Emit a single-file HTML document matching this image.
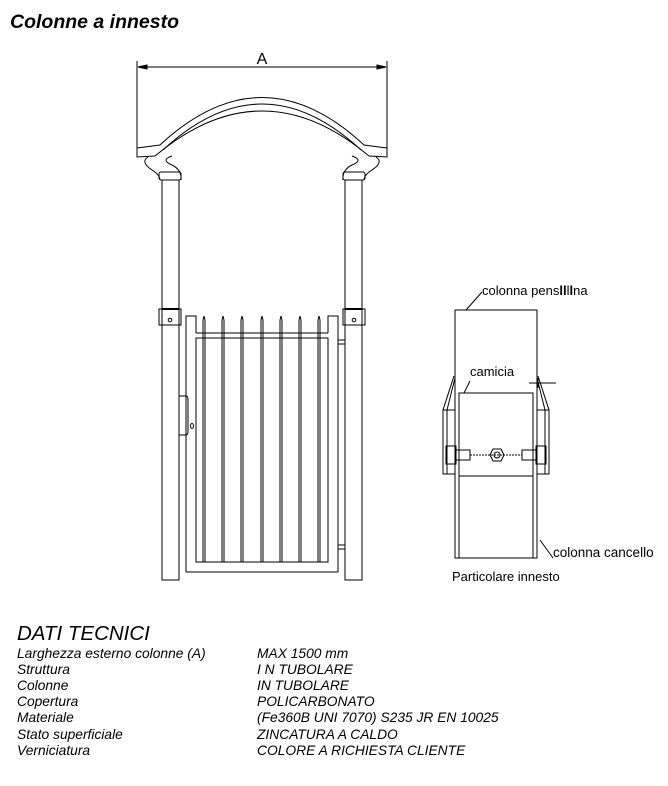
<!DOCTYPE html>
<html><head><meta charset="utf-8"><style>
body{margin:0;background:#fff;}
svg{display:block;}
text{font-family:"Liberation Sans",Arial,sans-serif;fill:#000;}
</style></head><body>
<svg width="668" height="786" viewBox="0 0 668 786" xmlns="http://www.w3.org/2000/svg">
<text x="10" y="28" font-size="19.5" font-weight="bold" font-style="italic">Colonne a innesto</text>
<g fill="none" stroke="#000" stroke-width="1">
<line x1="137" y1="61" x2="137" y2="155"/>
<line x1="387" y1="61" x2="387" y2="155"/>
<line x1="138" y1="67" x2="386" y2="67"/>
<path d="M138 67 l9 -2 v4 z M386 67 l-9 -2 v4 z" fill="#000"/>
<path d="M137 148 L160 145 Q262 50 364 145 L387 148 L387 157 L369 156 Q262 66 155 156 L137 157 Z"/>
<path d="M163 150 Q262 58 361 150"/>
<path d="M148 157 Q140 162 152 170 Q160 175 160 180 M172 156 Q160 160 172 165 Q182 170 181 180"/>
<path d="M376 157 Q384 162 372 170 Q364 175 364 180 M352 156 Q364 160 352 165 Q342 170 343 180"/>
<rect x="159" y="172" width="22" height="8" rx="2"/>
<rect x="162" y="180" width="17" height="400"/>
<rect x="159" y="309" width="22" height="16"/>
<line x1="162" y1="309" x2="179" y2="309" stroke-width="2"/>
<circle cx="170" cy="320" r="1.8"/>
<rect x="343" y="172" width="22" height="8" rx="2"/>
<rect x="345" y="180" width="17" height="400"/>
<rect x="343" y="309" width="22" height="16"/>
<line x1="345" y1="309" x2="362" y2="309" stroke-width="2"/>
<circle cx="354" cy="320" r="1.8"/>
<path d="M186 572 V316 H196 V333 M338 572 V316 H328 V333"/>
<line x1="186" y1="572" x2="338" y2="572"/>
<line x1="196" y1="333" x2="328" y2="333"/>
<rect x="196" y="338" width="132" height="224"/>
<g>
<path d="M203 562 V320 l1 -4 l1 4 V562"/>
<path d="M222 562 V320 l1 -4 l1 4 V562"/>
<path d="M241 562 V320 l1 -4 l1 4 V562"/>
<path d="M261 562 V320 l1 -4 l1 4 V562"/>
<path d="M280 562 V320 l1 -4 l1 4 V562"/>
<path d="M299 562 V320 l1 -4 l1 4 V562"/>
<path d="M318 562 V320 l1 -4 l1 4 V562"/>
</g>
<path d="M179 396 H186 Q188 396 188 400 V431 Q188 435 186 435 H179"/>
<ellipse cx="192" cy="426" rx="1.5" ry="2.5"/>
<rect x="338" y="340" width="7" height="4"/>
<rect x="338" y="545" width="7" height="4"/>
<rect x="455" y="310" width="82" height="248"/>
<line x1="459" y1="393" x2="459" y2="558"/>
<line x1="533" y1="393" x2="533" y2="558"/>
<rect x="459" y="393" width="74" height="83"/>
<path d="M454 376 L443 410 V474 H455 M455 378 L447 410 V474"/>
<path d="M538 376 L549 410 V474 H537 M537 378 L545 410 V474"/>
<line x1="443" y1="410" x2="455" y2="410"/><line x1="537" y1="410" x2="549" y2="410"/>
<rect x="446" y="446" width="10" height="18"/>
<rect x="456" y="450" width="14" height="10"/>
<rect x="536" y="446" width="10" height="18"/>
<rect x="522" y="450" width="14" height="10"/>
<line x1="470" y1="455" x2="522" y2="455" stroke-dasharray="2 1"/>
<polygon points="490,455 493,449 501,449 504,455 501,461 493,461"/>
<circle cx="497" cy="455" r="3"/>
<line x1="466" y1="310" x2="482" y2="292"/>
<line x1="464" y1="393" x2="470" y2="381"/>
<line x1="540" y1="540" x2="553" y2="558"/>
<line x1="529" y1="383" x2="556" y2="383"/>
<line x1="538" y1="378" x2="538" y2="388"/>
</g>
<text x="482" y="295" font-size="13">colonna pens<tspan font-weight="bold">ll</tspan>l<tspan font-weight="bold">l</tspan>na</text>
<text x="470" y="376" font-size="13">camicia</text>
<text x="553" y="557" font-size="13.5">colonna cancello</text>
<text x="452" y="581" font-size="13">Particolare innesto</text>
<text x="17" y="640" font-size="20.5" font-style="italic">DATI TECNICI</text>
<g font-size="13.8" font-style="italic">
<text x="17" y="658">Larghezza esterno colonne (A)</text><text x="257" y="658">MAX 1500 mm</text>
<text x="17" y="674">Struttura</text><text x="257" y="674">I N TUBOLARE</text>
<text x="17" y="690">Colonne</text><text x="257" y="690">IN TUBOLARE</text>
<text x="17" y="706">Copertura</text><text x="257" y="706">POLICARBONATO</text>
<text x="17" y="722">Materiale</text><text x="257" y="722">(Fe360B UNI 7070) S235 JR EN 10025</text>
<text x="17" y="739">Stato superficiale</text><text x="257" y="739">ZINCATURA A CALDO</text>
<text x="17" y="755">Verniciatura</text><text x="257" y="755">COLORE A RICHIESTA CLIENTE</text>
</g>
<text x="262" y="64" font-size="16" text-anchor="middle">A</text>
</svg>
</body></html>
